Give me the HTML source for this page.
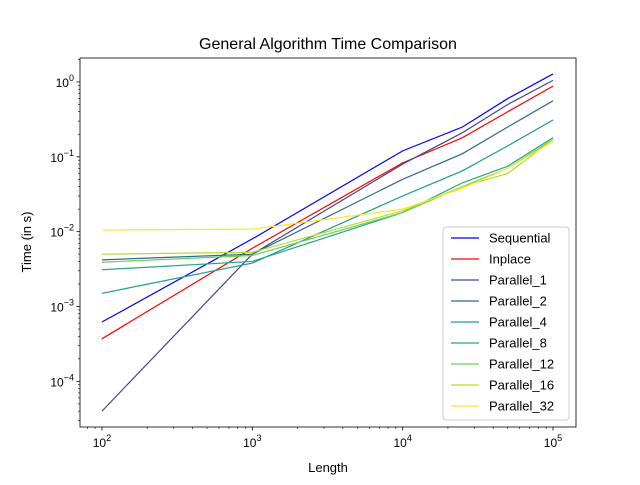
<!DOCTYPE html>
<html><head><meta charset="utf-8"><style>
body{margin:0;background:#fff}
svg{font-family:"Liberation Sans","DejaVu Sans",sans-serif}
</style></head><body>
<svg id="chart" width="640" height="480" xmlns="http://www.w3.org/2000/svg">
<rect width="640" height="480" fill="#fff"/>
<text x="328" y="49" text-anchor="middle" font-size="16">General Algorithm Time Comparison</text>
<text x="328" y="472" text-anchor="middle" font-size="13">Length</text>
<text x="31" y="242" text-anchor="middle" font-size="13" transform="rotate(-90 31 242)">Time (in s)</text>
<g id="plot"></g>
</svg>
<script>
const lengths=[100,1000,10000,25000,50000,100000];
const seriesNames=["Sequential","Inplace","Parallel_1","Parallel_2","Parallel_4","Parallel_8","Parallel_12","Parallel_16","Parallel_32"];
const sequential=[6.2e-4,0.008,0.12,0.25,0.6,1.28];
const inplace=[3.7e-4,0.006,0.083,0.18,0.4,0.88];
const parallel1=[4e-5,0.005,0.08,0.21,0.5,1.05];
const parallel2=[0.0042,0.005,0.05,0.11,0.25,0.56];
const parallel4=[0.0015,0.0038,0.03,0.065,0.14,0.31];
const parallel8=[0.0031,0.004,0.018,0.045,0.075,0.18];
const parallel12=[0.0039,0.0048,0.018,0.04,0.07,0.17];
const parallel16=[0.005,0.0053,0.019,0.04,0.06,0.17];
const parallel32=[0.0105,0.0108,0.02,0.038,0.07,0.16];
const allSeries=[sequential,inplace,parallel1,parallel2,parallel4,parallel8,parallel12,parallel16,parallel32];
const colors=["#0000ff","#ff0000","#3e4a89","#31688e","#1f9e89","#26a784","#6ece58","#b5de2b","#fde725"];
const xTicks=[2,3,4,5];
const yTicks=[-4,-3,-2,-1,0];

const L=80,R=576,T=58,B=427;
const xMin=1.854,xMax=5.153,yMin=-4.61,yMax=0.32;
const X=v=>L+(Math.log10(v)-xMin)/(xMax-xMin)*(R-L);
const Y=v=>B-(Math.log10(v)-yMin)/(yMax-yMin)*(B-T);
const NS="http://www.w3.org/2000/svg";
const g=document.getElementById('plot');
function mk(tag,attrs,parent){const e=document.createElementNS(NS,tag);for(const k in attrs)e.setAttribute(k,attrs[k]);(parent||g).appendChild(e);return e;}

// series
allSeries.forEach((s,i)=>{
  const p=mk('polyline',{points:s.map((v,j)=>X(lengths[j])+','+Y(v)).join(' '),fill:'none',stroke:colors[i],'stroke-width':1.2});
  
  
});
// frame
const fr=mk('rect',{x:L,y:T,width:R-L,height:B-T,fill:'none',stroke:'#000','stroke-width':0.8});


// x ticks
for(let d=1;d<=5;d++){for(let m=1;m<10;m++){const v=m*Math.pow(10,d);const x=X(v);if(x<L||x>R)continue;
  mk('line',{x1:x,x2:x,y1:B,y2:B+(m===1?3.5:2),stroke:'#000','stroke-width':m===1?0.8:0.6});}}
xTicks.forEach(e=>{const t=mk('text',{x:X(Math.pow(10,e)),y:B+20,'text-anchor':'middle','font-size':12});
  
  
  t.innerHTML='10<tspan dy="-6" font-size="9">'+e+'</tspan>';});
// y ticks
for(let d=-5;d<=0;d++){for(let m=1;m<10;m++){const v=m*Math.pow(10,d);const y=Y(v);if(y<T||y>B)continue;
  mk('line',{x1:L,x2:L-(m===1?3.5:2),y1:y,y2:y,stroke:'#000','stroke-width':m===1?0.8:0.6});}}
yTicks.forEach(e=>{const t=mk('text',{x:L-6,y:Y(Math.pow(10,e))+5,'text-anchor':'end','font-size':12});
  
  
  t.innerHTML='10<tspan dy="-6" font-size="9">'+(e<0?'\u2212'+(-e):e)+'</tspan>';});
// legend
const lg=mk('g',{});


mk('rect',{x:443,y:227,width:126,height:193,rx:3,fill:'#fff','fill-opacity':0.8,stroke:'#ccc'},lg);
seriesNames.forEach((n,i)=>{const y=238+i*21;
  const ln=mk('line',{x1:451,x2:479,y1:y,y2:y,stroke:colors[i],'stroke-width':1.2},lg);
  
  
  const t=mk('text',{x:489,y:y+4.5,'font-size':13},lg);
  
  
  t.textContent=n;});
</script>
</body></html>
